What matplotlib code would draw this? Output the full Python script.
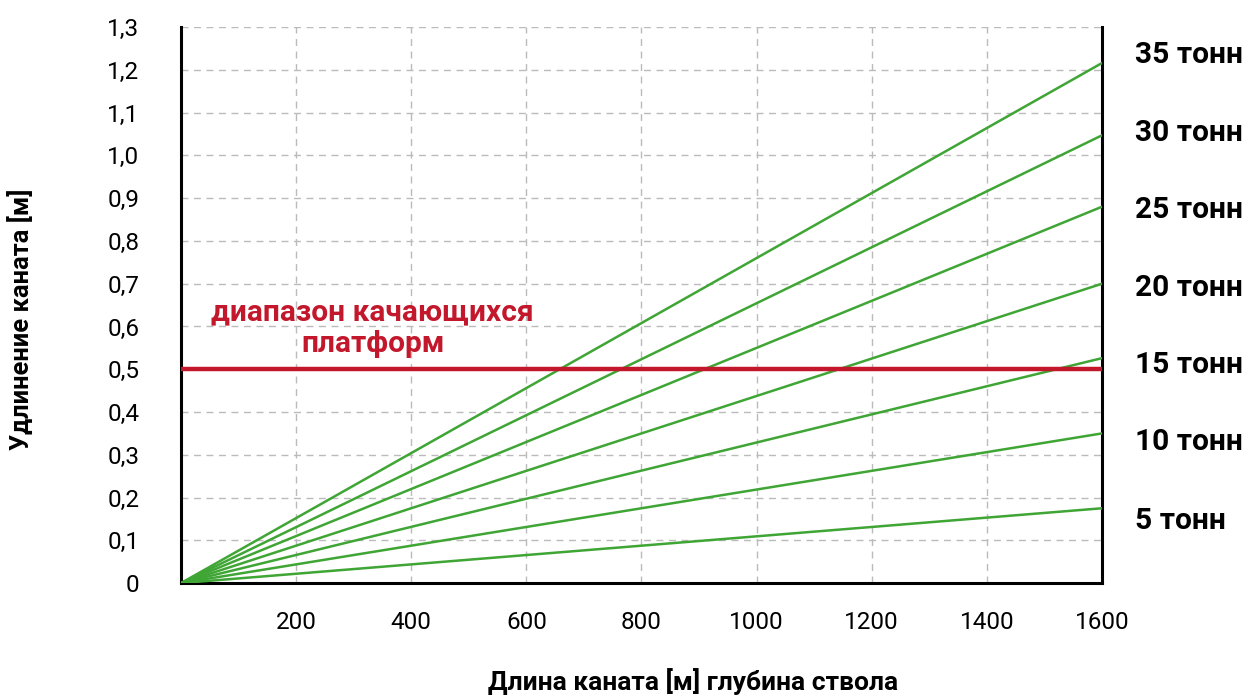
import matplotlib.pyplot as plt

plt.rcParams['font.family'] = ['Roboto', 'DejaVu Sans']

# rope length [m] and elongation [m] at 1600 m for each load
depth = [0, 1600]
loads = ['5 тонн', '10 тонн', '15 тонн', '20 тонн', '25 тонн', '30 тонн', '35 тонн']
elong_end = [0.175, 0.35, 0.526, 0.70, 0.88, 1.047, 1.216]
label_y = [0.145, 0.330, 0.510, 0.690, 0.872, 1.052, 1.234]
platform_limit = 0.5

x_ticks = [200, 400, 600, 800, 1000, 1200, 1400, 1600]
y_ticks = [0, 0.1, 0.2, 0.3, 0.4, 0.5, 0.6, 0.7, 0.8, 0.9, 1.0, 1.1, 1.2, 1.3]
y_tick_labels = ['0', '0,1', '0,2', '0,3', '0,4', '0,5', '0,6', '0,7', '0,8',
                 '0,9', '1,0', '1,1', '1,2', '1,3']

green = '#3fa535'
red = '#c3182b'

fig = plt.figure(figsize=(12.48, 6.95), dpi=100)
ax = fig.add_axes([0.145, 0.161, 0.738, 0.800])

for e in elong_end:
    ax.plot(depth, [0, e], color=green, linewidth=1.8, zorder=3)

ax.plot(depth, [platform_limit, platform_limit], color=red, linewidth=3.2, zorder=4)
ax.text(333, 0.596, 'диапазон качающихся\nплатформ', color=red, fontsize=21.5,
        fontweight='bold', ha='center', va='center')

for name, yy in zip(loads, label_y):
    ax.text(1657, yy, name, fontsize=21.5, fontweight='bold', ha='left',
            va='center', clip_on=False)

ax.set_xlim(0, 1600)
ax.set_ylim(0, 1.3)
ax.set_xticks(x_ticks)
ax.set_xticklabels([str(t) for t in x_ticks])
ax.set_yticks(y_ticks)
ax.set_yticklabels(y_tick_labels)
ax.tick_params(axis='both', length=0, labelsize=17.5)
ax.tick_params(axis='y', pad=30)
ax.tick_params(axis='x', pad=20)

ax.grid(True, linestyle=(0, (5, 4)), color='#bbbbbb', linewidth=1)
ax.set_axisbelow(True)

ax.spines['top'].set_visible(False)
for s in ['left', 'right', 'bottom']:
    ax.spines[s].set_linewidth(2.2)
    ax.spines[s].set_color('black')

fig.text(0.0176, 0.54, 'Удлинение каната [м]', rotation=90, fontsize=18.4,
         fontweight='bold', ha='center', va='center')
fig.text(0.555, 0.0173, 'Длина каната [м] глубина ствола', fontsize=19,
         fontweight='bold', ha='center', va='center')

fig.savefig('out.png', dpi=100)
